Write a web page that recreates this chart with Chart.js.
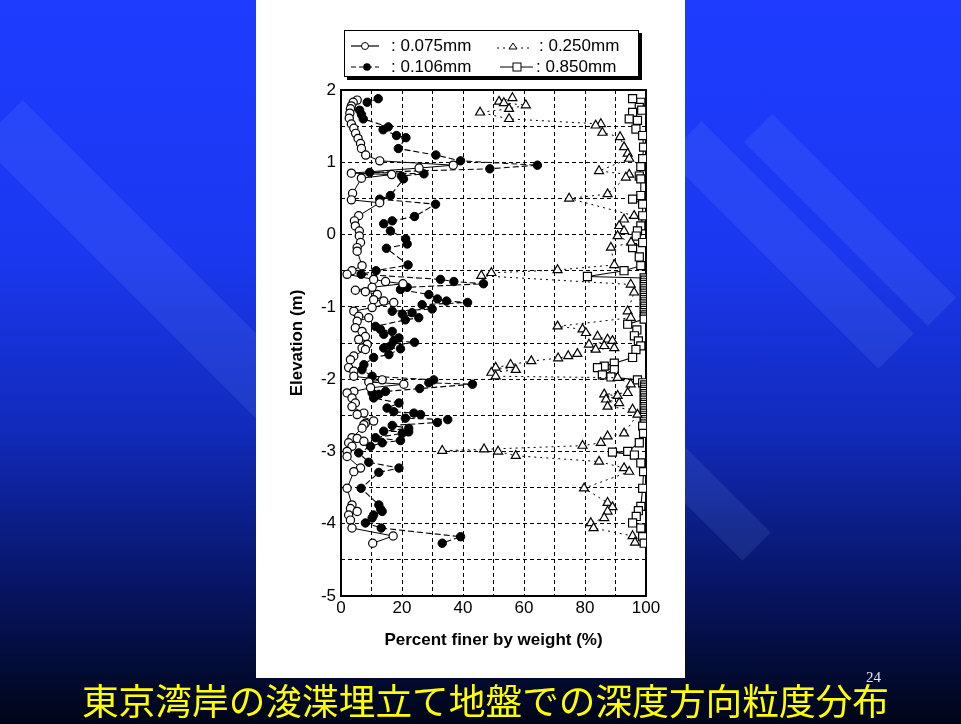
<!DOCTYPE html>
<html>
<head>
<meta charset="utf-8">
<script src="https://cdn.jsdelivr.net/npm/chart.js@4.4.1/dist/chart.umd.min.js"></script>
<style>
  html, body { margin: 0; padding: 0; }
  body {
    width: 961px; height: 724px; position: relative; overflow: hidden;
    background: linear-gradient(180deg, #1d3cff 0%, #1b38f0 35%, #112ab8 60%, #071668 80%, #000516 100%);
    font-family: 'Liberation Sans', Arial, sans-serif;
  }
  .stripe { position: absolute; background: rgba(150, 180, 255, 0.11); transform: rotate(45deg); }
  #panel { position: absolute; left: 256px; top: 0; width: 429px; height: 678px; background: #fff; }
  #wrap { position: absolute; left: 256px; top: 0; width: 430px; height: 678px; }
  #legend {
    position: absolute; left: 344px; top: 30px; width: 293px; height: 45px;
    border: 1px solid #000; box-shadow: 3px 3px 0 #000; background: #fff;
  }
  .item { position: absolute; font-size: 17px; color: #000; line-height: 20px; white-space: nowrap; }
  .item svg { position: absolute; }
  #title {
    position: absolute; left: 5px; top: 677px; width: 961px; text-align: center;
    font-family: 'Noto Sans CJK JP', sans-serif; font-size: 36.7px; color: #ffff00; line-height: 44px;
  }
  #page { position: absolute; left: 866px; top: 669px; font-family: 'Liberation Serif', serif; font-size: 15px; color: #e8e8f0; }
</style>
</head>
<body>
<div class="stripe" style="left:-60px; top:240px; width:420px; height:60px;"></div>
<div class="stripe" style="left:640px; top:220px; width:300px; height:50px;"></div>
<div class="stripe" style="left:720px; top:200px; width:260px; height:40px;"></div>
<div class="stripe" style="left:620px; top:470px; width:160px; height:40px;"></div>
<div id="panel"></div>
<div id="wrap"><canvas id="chart"></canvas></div>
<div id="legend">
  <div class="item" style="left:6px; top:5px;">
    <svg width="30" height="20" style="left:0;top:0"><line x1="0" y1="10" x2="28" y2="10" stroke="#000" stroke-width="1.2"/><circle cx="14" cy="10" r="3.5" fill="#fff" stroke="#000"/></svg>
    <span style="position:absolute; left:40px;">: 0.075mm</span>
  </div>
  <div class="item" style="left:6px; top:26px;">
    <svg width="30" height="20" style="left:0;top:0"><line x1="0" y1="10" x2="28" y2="10" stroke="#000" stroke-width="1.2" stroke-dasharray="5,3"/><circle cx="16" cy="10" r="3.8" fill="#000"/></svg>
    <span style="position:absolute; left:40px;">: 0.106mm</span>
  </div>
  <div class="item" style="left:152px; top:5px;">
    <svg width="34" height="20" style="left:0;top:0"><line x1="0" y1="12" x2="32" y2="12" stroke="#000" stroke-width="1.2" stroke-dasharray="2,4"/><polygon points="16,7 20,13 12,13" fill="#fff" stroke="#000"/></svg>
    <span style="position:absolute; left:42px;">: 0.250mm</span>
  </div>
  <div class="item" style="left:155px; top:26px;">
    <svg width="34" height="20" style="left:0;top:0"><line x1="0" y1="10" x2="33" y2="10" stroke="#000" stroke-width="1.2"/><rect x="13" y="6" width="8" height="8" fill="#fff" stroke="#000"/></svg>
    <span style="position:absolute; left:36px;">: 0.850mm</span>
  </div>
</div>
<div id="title">東京湾岸の浚渫埋立て地盤での深度方向粒度分布</div>
<div id="page">24</div>

<script>
// elevation (m) and percent finer (%), top to bottom
const elev075 = [1.86, 1.83, 1.78, 1.74, 1.68, 1.61, 1.53, 1.47, 1.40, 1.33, 1.26, 1.19, 1.10, 1.02, 0.96, 0.92, 0.85, 0.83, 0.78, 0.57, 0.48, 0.44, 0.26, 0.19, 0.12, 0.05, -0.02, -0.11, -0.18, -0.23, -0.43, -0.50, -0.55, -0.62, -0.65, -0.68, -0.73, -0.77, -0.79, -0.83, -0.90, -0.92, -0.94, -1.01, -1.06, -1.13, -1.15, -1.20, -1.29, -1.34, -1.41, -1.45, -1.52, -1.57, -1.59, -1.68, -1.73, -1.84, -1.89, -1.96, -2.01, -2.04, -2.07, -2.12, -2.17, -2.19, -2.26, -2.33, -2.38, -2.47, -2.49, -2.58, -2.61, -2.63, -2.68, -2.81, -2.82, -2.86, -2.88, -2.93, -3.00, -3.07, -3.23, -3.28, -3.51, -3.74, -3.79, -3.83, -3.88, -3.95, -4.06, -4.17, -4.27];
const finer075 = [5.3, 4.0, 3.4, 3.1, 2.9, 2.7, 3.4, 4.2, 4.8, 5.6, 6.4, 6.7, 8.1, 12.7, 36.8, 25.6, 3.4, 16.6, 6.7, 3.8, 3.4, 12.7, 5.8, 4.4, 4.7, 6.0, 6.0, 6.4, 5.3, 5.3, 6.9, 3.6, 2.0, 10.7, 14.6, 20.3, 10.2, 4.7, 8.0, 11.9, 10.7, 14.0, 17.3, 10.2, 4.2, 5.8, 9.1, 5.3, 4.7, 6.9, 8.0, 5.8, 8.6, 6.9, 8.0, 4.2, 3.1, 2.5, 4.2, 4.2, 13.5, 9.1, 20.6, 9.7, 4.2, 2.0, 3.6, 4.7, 3.6, 7.5, 5.3, 10.7, 8.0, 7.5, 6.9, 3.6, 5.3, 7.5, 2.5, 3.6, 2.0, 2.0, 6.4, 4.2, 2.0, 3.6, 3.1, 5.3, 2.5, 3.1, 3.6, 17.1, 10.4];

const elev106 = [1.88, 1.83, 1.72, 1.66, 1.60, 1.49, 1.45, 1.37, 1.34, 1.19, 1.10, 1.02, 0.96, 0.91, 0.86, 0.84, 0.81, 0.77, 0.54, 0.49, 0.42, 0.25, 0.19, 0.15, 0.05, -0.06, -0.13, -0.19, -0.42, -0.50, -0.55, -0.62, -0.65, -0.68, -0.73, -0.76, -0.83, -0.89, -0.92, -0.94, -0.97, -1.03, -1.06, -1.08, -1.10, -1.15, -1.18, -1.27, -1.31, -1.34, -1.38, -1.43, -1.47, -1.49, -1.54, -1.57, -1.58, -1.66, -1.70, -1.80, -1.87, -1.96, -2.01, -2.05, -2.07, -2.13, -2.17, -2.19, -2.21, -2.26, -2.33, -2.40, -2.45, -2.47, -2.49, -2.54, -2.56, -2.60, -2.64, -2.68, -2.72, -2.73, -2.75, -2.81, -2.85, -2.88, -2.93, -3.02, -3.15, -3.23, -3.29, -3.51, -3.74, -3.80, -3.83, -3.88, -3.92, -3.99, -4.06, -4.18, -4.27];
const finer106 = [12.2, 8.6, 6.1, 6.7, 7.3, 15.5, 13.8, 18.2, 21.3, 18.8, 31.1, 39.2, 64.4, 48.8, 9.4, 27.2, 19.8, 20.5, 16.2, 12.7, 31.0, 24.1, 16.8, 14.0, 16.2, 21.2, 21.7, 14.9, 22.0, 11.5, 6.6, 32.6, 37.0, 46.7, 21.7, 19.5, 28.8, 31.6, 34.6, 41.5, 26.6, 29.9, 16.8, 23.3, 20.1, 25.5, 21.1, 11.3, 12.9, 16.8, 14.0, 19.0, 17.3, 24.1, 16.2, 14.0, 19.5, 15.7, 10.7, 7.5, 6.9, 10.2, 30.4, 28.8, 43.1, 25.8, 14.6, 10.2, 12.4, 10.7, 19.0, 15.1, 17.3, 23.9, 26.1, 21.1, 35.0, 31.6, 16.8, 22.2, 14.0, 22.2, 20.1, 11.3, 19.5, 13.5, 9.7, 5.8, 9.1, 19.0, 12.4, 6.6, 12.4, 13.0, 13.5, 10.7, 10.2, 8.0, 13.2, 39.2, 33.2];

const elev250 = [1.89, 1.84, 1.82, 1.79, 1.74, 1.69, 1.60, 1.53, 1.51, 1.41, 1.35, 1.21, 1.12, 1.05, 0.88, 0.83, 0.79, 0.56, 0.50, 0.26, 0.21, 0.12, 0.05, -0.02, -0.11, -0.18, -0.42, -0.49, -0.53, -0.57, -0.69, -0.80, -1.06, -1.15, -1.27, -1.31, -1.36, -1.41, -1.45, -1.47, -1.52, -1.54, -1.57, -1.59, -1.65, -1.68, -1.71, -1.75, -1.80, -1.84, -1.87, -1.91, -1.96, -1.98, -2.07, -2.19, -2.21, -2.23, -2.28, -2.33, -2.38, -2.42, -2.49, -2.75, -2.79, -2.88, -2.92, -2.97, -2.99, -3.00, -3.06, -3.14, -3.23, -3.28, -3.51, -3.71, -3.77, -3.83, -3.92, -3.99, -4.06, -4.17, -4.26];
const finer250 = [56.2, 51.8, 53.4, 60.6, 55.1, 45.6, 55.1, 85.2, 83.5, 85.7, 91.5, 92.8, 94.0, 94.5, 84.6, 94.5, 93.4, 87.4, 74.8, 96.1, 92.8, 91.2, 92.8, 90.7, 95.1, 88.5, 89.6, 71.0, 49.3, 46.0, 95.0, 96.1, 94.0, 95.0, 71.0, 79.2, 80.3, 84.1, 87.4, 89.0, 81.3, 86.3, 89.6, 83.5, 77.5, 74.5, 71.2, 62.4, 55.6, 50.7, 57.3, 49.3, 50.7, 90.7, 95.0, 94.0, 86.3, 90.7, 86.9, 91.2, 87.4, 95.6, 97.2, 92.8, 87.4, 85.2, 79.2, 46.9, 33.2, 51.5, 57.3, 84.6, 92.8, 94.5, 79.7, 87.4, 89.0, 87.4, 86.3, 81.9, 82.8, 95.6, 96.4];

const elev850 = [1.88, 1.83, 1.76, 1.72, 1.69, 1.60, 1.58, 1.46, 1.37, 1.21, 1.05, 0.94, 0.81, 0.77, 0.54, 0.49, 0.42, 0.26, 0.12, 0.05, -0.02, -0.11, -0.18, -0.31, -0.43, -0.50, -0.58, -0.60, -0.63, -0.66, -0.69, -0.72, -0.75, -0.78, -0.81, -0.84, -0.87, -0.90, -0.93, -0.96, -0.99, -1.02, -1.05, -1.08, -1.11, -1.14, -1.17, -1.24, -1.32, -1.40, -1.47, -1.54, -1.59, -1.70, -1.78, -1.82, -1.84, -1.87, -1.94, -1.97, -2.01, -2.05, -2.08, -2.11, -2.14, -2.17, -2.20, -2.23, -2.26, -2.29, -2.32, -2.35, -2.38, -2.41, -2.44, -2.47, -2.50, -2.53, -2.56, -2.59, -2.62, -2.65, -2.75, -2.88, -3.00, -3.01, -3.05, -3.16, -3.28, -3.51, -3.76, -3.82, -3.90, -3.99, -4.06, -4.18, -4.27];
const finer850 = [95.6, 98.3, 97.8, 98.6, 95.6, 94.5, 97.2, 96.7, 98.9, 99.2, 98.9, 98.3, 97.8, 98.3, 98.3, 95.6, 98.9, 98.9, 98.3, 97.2, 96.8, 98.9, 95.6, 97.8, 98.3, 92.8, 80.8, 99.4, 99.6, 99.5, 99.6, 99.4, 99.6, 99.5, 99.6, 99.4, 99.6, 99.5, 99.6, 99.4, 99.6, 99.5, 99.6, 99.4, 99.6, 99.5, 99.4, 94.0, 97.0, 96.2, 97.5, 98.3, 96.7, 95.6, 89.6, 86.3, 84.1, 89.6, 85.7, 88.5, 97.2, 98.9, 99.6, 99.5, 99.6, 99.4, 99.6, 99.5, 99.6, 99.4, 99.6, 99.5, 99.6, 99.4, 99.6, 99.5, 99.6, 99.4, 99.6, 99.5, 99.6, 98.9, 99.2, 97.8, 94.0, 89.0, 96.2, 98.3, 99.2, 98.9, 98.3, 97.5, 96.8, 95.6, 98.3, 98.9, 99.4];

const xTicks = [0, 20, 40, 60, 80, 100];
const yTicks = [2, 1, 0, -1, -2, -3, -4, -5];

const pts = (xs, ys) => xs.map((x, i) => ({ x: x, y: ys[i] }));

const frame = {
  id: 'frame',
  beforeDatasetsDraw(chart) {
    const { ctx, chartArea: a } = chart;
    ctx.save();
    ctx.strokeStyle = '#000';
    ctx.lineWidth = 2;
    ctx.strokeRect(a.left, a.top, a.right - a.left, a.bottom - a.top);
    ctx.restore();
  }
};

const font = { family: "'Liberation Sans', Arial, sans-serif", size: 17 };
const titleFont = { family: "'Liberation Sans', Arial, sans-serif", size: 17, weight: 'bold' };

new Chart(document.getElementById('chart'), {
  type: 'scatter',
  data: {
    datasets: [
      {
        label: '0.075mm',
        data: pts(finer075, elev075),
        showLine: true,
        borderColor: '#000', borderWidth: 1,
        pointStyle: 'circle', pointRadius: 4.1,
        pointBackgroundColor: '#fff', pointBorderColor: '#000', pointBorderWidth: 1.2,
      },
      {
        label: '0.106mm',
        data: pts(finer106, elev106),
        showLine: true,
        borderColor: '#000', borderWidth: 1.1, borderDash: [6, 3],
        pointStyle: 'circle', pointRadius: 4.2,
        pointBackgroundColor: '#000', pointBorderColor: '#000', pointBorderWidth: 1,
      },
      {
        label: '0.250mm',
        data: pts(finer250, elev250),
        showLine: true,
        borderColor: '#000', borderWidth: 1, borderDash: [2, 4],
        pointStyle: 'triangle', pointRadius: 5.2,
        pointBackgroundColor: '#fff', pointBorderColor: '#000', pointBorderWidth: 1.2,
      },
      {
        label: '0.850mm',
        data: pts(finer850, elev850),
        showLine: true,
        borderColor: '#000', borderWidth: 1.1,
        pointStyle: 'rect', pointRadius: 5.7,
        pointBackgroundColor: '#fff', pointBorderColor: '#000', pointBorderWidth: 1.2,
      },
    ],
  },
  options: {
    responsive: true,
    maintainAspectRatio: false,
    animation: false,
    layout: { padding: { top: 90, right: 40, left: 0, bottom: 0 } },
    plugins: { legend: { display: false }, tooltip: { enabled: false } },
    scales: {
      x: {
        type: 'linear', min: 0, max: 100,
        afterFit(scale) { scale.height = 82; },
        border: { display: false, dash: [4, 3] },
        grid: { color: '#000', lineWidth: 1, drawTicks: false },
        ticks: {
          stepSize: 10, autoSkip: false, padding: 2, color: '#000', font: font,
          maxRotation: 0, minRotation: 0,
          callback: (v) => (xTicks.includes(v) ? v : ''),
        },
        title: { display: true, text: 'Percent finer by weight (%)', color: '#000', font: titleFont, padding: { top: 0, bottom: 27 } },
      },
      y: {
        type: 'linear', min: -5, max: 2,
        afterFit(scale) { scale.width = 85; },
        border: { display: false, dash: [4, 3] },
        grid: { color: '#000', lineWidth: 1, drawTicks: false },
        ticks: {
          stepSize: 0.5, autoSkip: false, padding: 5, color: '#000', font: font,
          callback: (v) => (yTicks.includes(v) ? v : ''),
        },
        title: { display: true, text: 'Elevation (m)', color: '#000', font: titleFont, padding: { top: 31, bottom: 0 } },
      },
    },
  },
  plugins: [frame],
});
</script>
</body>
</html>
